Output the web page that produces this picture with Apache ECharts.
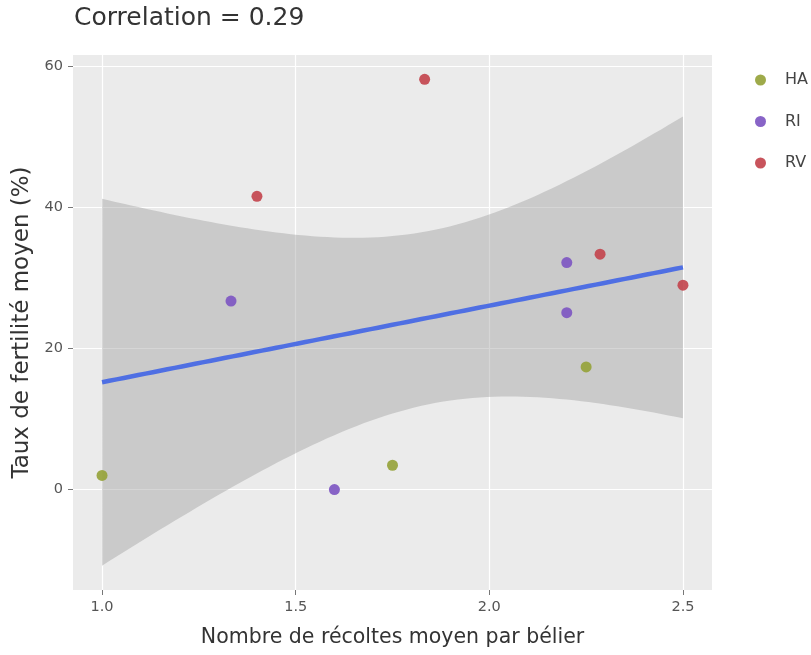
<!DOCTYPE html>
<html>
<head>
<meta charset="utf-8">
<script src="https://cdn.jsdelivr.net/npm/echarts@6/dist/echarts.min.js"></script>
<style>
  html, body { margin: 0; padding: 0; background: #fff; }
  #chart { width: 811px; height: 655px; }
</style>
</head>
<body>
<div id="chart"></div>
<script>
// Mean harvests per ram (x) vs mean fertility rate in % (y), by group
const groups = ['HA', 'RI', 'RV'];
const haX = [1.0, 1.75, 2.25];
const haY = [2.0, 3.45, 17.4];
const riX = [1.333, 1.6, 2.2, 2.2];
const riY = [26.75, 0.0, 32.2, 25.1];
const rvX = [1.4, 1.833, 2.286, 2.5];
const rvY = [41.6, 58.2, 33.4, 29.0];
const groupColors = ['#96A33B', '#7E57C2', '#C3454E'];

const xTicks = [1.0, 1.5, 2.0, 2.5];
const yTicks = [0, 20, 40, 60];

// Student t quantile (0.975) for 9 degrees of freedom (n = 11 points, 2 params)
const T_975 = 2.262;

// Pooled data for the linear fit
const allX = haX.concat(riX, rvX);
const allY = haY.concat(riY, rvY);
const n = allX.length;
const meanX = allX.reduce((a, b) => a + b, 0) / n;
const meanY = allY.reduce((a, b) => a + b, 0) / n;
let sxx = 0, sxy = 0, syy = 0;
for (let i = 0; i < n; i++) {
  const dx = allX[i] - meanX, dy = allY[i] - meanY;
  sxx += dx * dx; sxy += dx * dy; syy += dy * dy;
}
const slope = sxy / sxx;
const intercept = meanY - slope * meanX;
const corr = sxy / Math.sqrt(sxx * syy);
const sigma = Math.sqrt((syy - sxy * sxy / sxx) / (n - 2));

// Fitted line and 95% confidence band evaluated across the x range
const xLo = Math.min(...allX), xHi = Math.max(...allX);
const fitLine = [], bandUpper = [], bandLower = [];
const steps = 80;
for (let k = 0; k <= steps; k++) {
  const x = xLo + (xHi - xLo) * k / steps;
  const yHat = intercept + slope * x;
  const se = sigma * Math.sqrt(1 / n + (x - meanX) * (x - meanX) / sxx);
  fitLine.push([x, yHat]);
  bandUpper.push([x, yHat + T_975 * se]);
  bandLower.push([x, yHat - T_975 * se]);
}

// Axis limits with 5% padding around data + band
const yMinData = Math.min(...allY, ...bandLower.map(p => p[1]));
const yMaxData = Math.max(...allY, ...bandUpper.map(p => p[1]));
const yPad = (yMaxData - yMinData) * 0.05;
const xPad = (xHi - xLo) * 0.05;

const zip = (xs, ys) => xs.map((x, i) => [x, ys[i]]);
const groupData = [zip(haX, haY), zip(riX, riY), zip(rvX, rvY)];

const chart = echarts.init(document.getElementById('chart'));
const fontFam = '"DejaVu Sans", Verdana, sans-serif';

const option = {
  backgroundColor: '#ffffff',
  animation: false,
  textStyle: { fontFamily: fontFam },
  title: {
    text: 'Correlation = ' + corr.toFixed(2),
    left: 69, top: 1,
    textStyle: { fontSize: 25, fontWeight: 'normal', color: '#333', fontFamily: fontFam }
  },
  legend: {
    orient: 'vertical',
    left: 750, top: 67,
    itemWidth: 11, itemHeight: 11, itemGap: 25.5,
    icon: 'circle',
    textStyle: { fontSize: 16, color: '#444', padding: [0, 0, 0, 14], fontFamily: fontFam },
    data: groups
  },
  grid: {
    left: 73, right: 99, top: 55, bottom: 65,
    containLabel: false,
    show: true, backgroundColor: '#EBEBEB', borderWidth: 0
  },
  xAxis: {
    type: 'value',
    min: xLo - xPad, max: xHi + xPad,
    name: 'Nombre de récoltes moyen par bélier',
    nameLocation: 'middle', nameGap: 37,
    nameTextStyle: { fontSize: 20.5, color: '#333', fontFamily: fontFam },
    axisLine: { show: false, onZero: false },
    axisTick: { show: true, length: 5, lineStyle: { color: '#777' }, customValues: xTicks },
    axisLabel: { fontSize: 14.5, color: '#555', margin: 10, customValues: xTicks,
                 fontFamily: fontFam, formatter: v => v.toFixed(1) },
    splitLine: { show: true, lineStyle: { color: '#ffffff', width: 1.2 } }
  },
  yAxis: {
    type: 'value',
    min: yMinData - yPad, max: yMaxData + yPad,
    name: 'Taux de fertilité moyen (%)',
    nameLocation: 'middle', nameGap: 38,
    nameTextStyle: { fontSize: 23, color: '#333', fontFamily: fontFam },
    axisLine: { show: false, onZero: false },
    axisTick: { show: true, length: 5, lineStyle: { color: '#777' }, customValues: yTicks },
    axisLabel: { fontSize: 14.5, color: '#555', margin: 10, customValues: yTicks, fontFamily: fontFam },
    splitLine: { show: true, lineStyle: { color: '#ffffff', width: 1.2 } }
  },
  series: [
    {
      name: 'band',
      type: 'custom',
      silent: true,
      z: 1,
      data: [[xLo, 0]],
      renderItem: function (params, api) {
        const pts = bandUpper.map(p => api.coord(p))
          .concat(bandLower.slice().reverse().map(p => api.coord(p)));
        return {
          type: 'polygon',
          shape: { points: pts },
          style: { fill: 'rgba(153,153,153,0.4)' }
        };
      }
    },
    {
      name: 'fit',
      type: 'line',
      data: fitLine,
      showSymbol: false,
      silent: true,
      z: 2,
      lineStyle: { color: '#4F6FE3', width: 4.5 }
    }
  ].concat(groups.map((g, i) => ({
    name: g,
    type: 'scatter',
    data: groupData[i],
    symbolSize: 11,
    z: 3,
    itemStyle: { color: groupColors[i], opacity: 0.92 }
  })))
};

chart.setOption(option);
</script>
</body>
</html>
